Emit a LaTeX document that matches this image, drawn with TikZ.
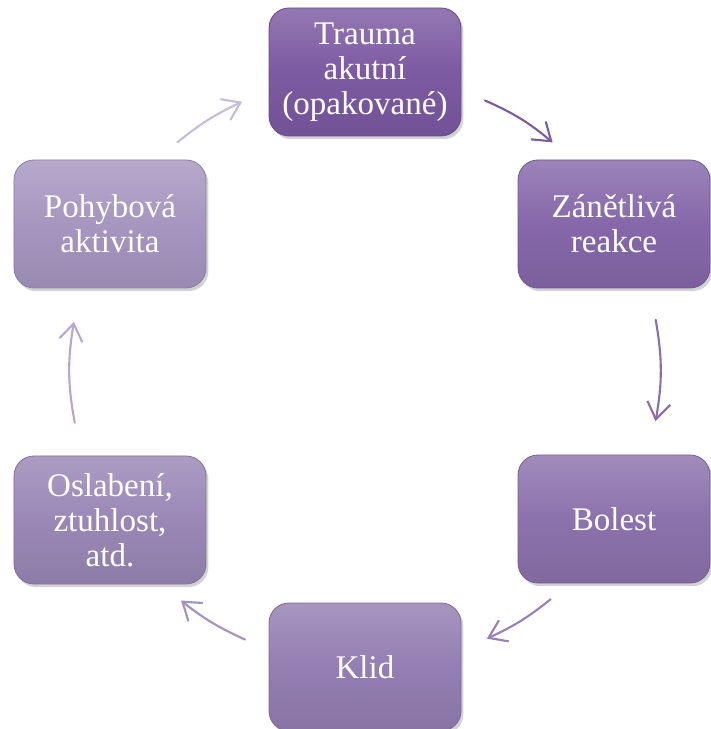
\documentclass[tikz,border=0pt]{standalone}
\usepackage{fontspec}
\setmainfont{Liberation Serif}
\newfontfamily\stagefont{Liberation Serif}
\usepackage{tikz}
\usetikzlibrary{arrows.meta,shadows}

\definecolor{boxA}{RGB}{124,90,162}
\definecolor{boxB}{RGB}{134,104,170}
\definecolor{boxC}{RGB}{140,114,172}
\definecolor{boxD}{RGB}{148,126,178}
\definecolor{boxE}{RGB}{154,135,182}
\definecolor{boxF}{RGB}{166,150,192}
\definecolor{arrA}{RGB}{122,92,160}
\definecolor{arrB}{RGB}{136,110,174}
\definecolor{arrC}{RGB}{150,128,184}
\definecolor{arrD}{RGB}{162,146,192}
\definecolor{arrE}{RGB}{180,168,206}
\definecolor{arrF}{RGB}{198,188,218}

\begin{document}
\begin{tikzpicture}[
    stage/.style={rectangle, rounded corners=5mm, draw=#1!85!black, line width=0.6pt,
                  top color=#1!82!white, bottom color=#1!92!black, middle color=#1,
                  minimum width=4.8cm, minimum height=3.2cm, align=center, text=white,
                  font=\stagefont\fontsize{23.5}{25}\selectfont,
                  drop shadow={opacity=0.35, shadow xshift=0.06cm, shadow yshift=-0.08cm}},
    cyc/.style={draw=#1, line width=1.5pt, line cap=round,
                -{Straight Barb[length=4.2mm, width=5.8mm, line width=1.5pt]}}
]

\useasboundingbox (-9.125,-8.975) rectangle (8.625,9.25);

% Stages of the cycle
\node[stage=boxA] (trauma) at (0, 7.45) {Trauma\\akutní\\(opakované)};
\node[stage=boxB] (zanet) at (6.225, 3.65) {Zánětlivá\\reakce};
\node[stage=boxC] (bolest) at (6.225, -3.725) {Bolest};
\node[stage=boxD] (klid) at (0, -7.425) {Klid};
\node[stage=boxE] (oslab) at (-6.375, -3.75) {Oslabení,\\ztuhlost,\\atd.};
\node[stage=boxF] (pohyb) at (-6.375, 3.65) {Pohybová\\aktivita};

% Arrow ends on the circle
\coordinate (s1) at (66:7.375);
\coordinate (e1) at (50.5:7.375);
\coordinate (s2) at (9.8:7.375);
\coordinate (e2) at (-10:7.375);
\coordinate (s3) at (-51:7.375);
\coordinate (e3) at (-65.6:7.375);
\coordinate (s4) at (-114:7.375);
\coordinate (e4) at (-128.6:7.375);
\coordinate (s5) at (190.3:7.375);
\coordinate (e5) at (170.6:7.375);
\coordinate (s6) at (129.5:7.375);
\coordinate (e6) at (114.6:7.375);

% Arrows
\draw[cyc=arrA] (s1) to[bend left=8] (e1);
\draw[cyc=arrB] (s2) to[bend left=10] (e2);
\draw[cyc=arrC] (s3) to[bend left=7] (e3);
\draw[cyc=arrD] (s4) to[bend left=7] (e4);
\draw[cyc=arrE] (s5) to[bend left=10] (e5);
\draw[cyc=arrF] (s6) to[bend left=7] (e6);

\end{tikzpicture}
\end{document}
